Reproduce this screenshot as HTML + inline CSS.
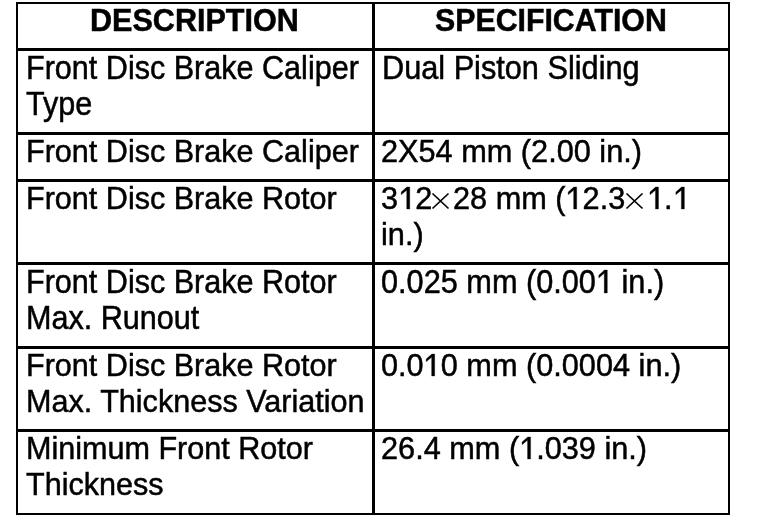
<!DOCTYPE html>
<html>
<head>
<meta charset="utf-8">
<title>Front Disc Brake Specifications</title>
<style>
  html, body {
    margin: 0;
    padding: 0;
    background: #ffffff;
  }
  html {
    filter: grayscale(1);
  }
  body {
    width: 768px;
    height: 530px;
    position: relative;
    overflow: hidden;
    font-family: "Liberation Sans", sans-serif;
    color: #000000;
  }
  .ln {
    position: absolute;
    background: #000000;
  }
  .t {
    position: absolute;
    white-space: nowrap;
    font-size: 32px;
    line-height: 36px;
    height: 36px;
    transform: scale(var(--sx, 0.955), var(--sy, 1));
    transform-origin: 0 29px;
    -webkit-text-stroke: 0.5px #000000;
  }
  .h {
    font-weight: bold;
  }
  .c2 { --sx: 0.959; }
  .tall { --sy: 1.045; }
  .o {
    display: inline-block;
    position: relative;
    color: transparent;
    -webkit-text-stroke: 0 transparent;
  }
  .o svg {
    position: absolute;
    left: 0;
    top: 6.98px;
    width: 17.8px;
    height: 22.02px;
    overflow: visible;
  }
  .o svg path {
    fill: #000000;
    stroke: #000000;
    stroke-width: 0.3;
  }
  .x {
    position: absolute;
    width: 19px;
    height: 18px;
    font-size: 10px;
    line-height: 18px;
    color: transparent;
  }
  .x svg {
    position: absolute;
    left: 0;
    top: 0;
    overflow: visible;
  }
  .x path {
    fill: none;
    stroke: #000000;
    stroke-width: 1.7;
    stroke-linecap: butt;
  }
</style>
</head>
<body>

<!-- outer border -->
<div class="ln" style="left:16px; top:2px; width:714px; height:2px;"></div>
<div class="ln" style="left:16px; top:513px; width:714px; height:2px;"></div>
<div class="ln" style="left:16px; top:2px; width:2px; height:513px;"></div>
<div class="ln" style="left:728px; top:2px; width:2px; height:513px;"></div>

<!-- column divider -->
<div class="ln" style="left:372px; top:2px; width:3px; height:513px;"></div>

<!-- row rules -->
<div class="ln" style="left:16px; top:48px;  width:714px; height:3px;"></div>
<div class="ln" style="left:16px; top:132px; width:714px; height:3px;"></div>
<div class="ln" style="left:16px; top:179px; width:714px; height:3px;"></div>
<div class="ln" style="left:16px; top:262px; width:714px; height:3px;"></div>
<div class="ln" style="left:16px; top:346px; width:714px; height:3px;"></div>
<div class="ln" style="left:16px; top:429px; width:714px; height:3px;"></div>

<!-- header -->
<div class="t h" id="h1" style="left:90px; top:2px;">DESCRIPTION</div>
<div class="t h" id="h2" style="left:435px; top:2px; --sx:0.947;">SPECIFICATION</div>

<!-- row 1 -->
<div class="t tall" id="r1a" style="left:25.7px; top:50px;">Front Disc Brake Caliper</div>
<div class="t tall" id="r1b" style="left:25.7px; top:86px;">Type</div>
<div class="t c2 tall" id="r1c" style="left:381.8px; top:50px;">Dual Piston Sliding</div>

<!-- row 2 -->
<div class="t" id="r2a" style="left:25.7px; top:133px;">Front Disc Brake Caliper</div>
<div class="t c2" id="r2c" style="left:381px; top:133px;">2X54 mm (2.00 in.)</div>

<!-- row 3 -->
<div class="t" id="r3a" style="left:25.7px; top:180px;">Front Disc Brake Rotor</div>
<div class="t c2" id="r3c" style="left:381px; top:180px;">3<span class="o">1<svg viewBox="0 0 17.8 22.02"><path d="M8.8 22.02 L8.8 3.2 L3.1 7.7 L3.1 4.9 L9 0 L12 0 L12 22.02 Z"/></svg></span>2</div>
<span class="x" id="x1" style="left:431px; top:192px;">&#215;<svg width="19" height="18" viewBox="0 0 19 18"><path d="M1.5 1.5 L17.5 16.5 M17.5 1.5 L1.5 16.5"/></svg></span>
<div class="t c2" id="r3c2" style="left:452.5px; top:180px;">28 mm (<span class="o">1<svg viewBox="0 0 17.8 22.02"><path d="M8.8 22.02 L8.8 3.2 L3.1 7.7 L3.1 4.9 L9 0 L12 0 L12 22.02 Z"/></svg></span>2.3</div>
<span class="x" id="x2" style="left:625px; top:192px;">&#215;<svg width="19" height="18" viewBox="0 0 19 18"><path d="M1.5 1.5 L17.5 16.5 M17.5 1.5 L1.5 16.5"/></svg></span>
<div class="t c2" id="r3c3" style="left:647px; top:180px;"><span class="o">1<svg viewBox="0 0 17.8 22.02"><path d="M8.8 22.02 L8.8 3.2 L3.1 7.7 L3.1 4.9 L9 0 L12 0 L12 22.02 Z"/></svg></span>.<span class="o">1<svg viewBox="0 0 17.8 22.02"><path d="M8.8 22.02 L8.8 3.2 L3.1 7.7 L3.1 4.9 L9 0 L12 0 L12 22.02 Z"/></svg></span></div>
<div class="t c2" id="r3d" style="left:381px; top:216px;">in.)</div>

<!-- row 4 -->
<div class="t tall" id="r4a" style="left:25.7px; top:264px;">Front Disc Brake Rotor</div>
<div class="t tall" id="r4b" style="left:25.7px; top:300px;">Max. Runout</div>
<div class="t c2 tall" id="r4c" style="left:381px; top:264px;">0.025 mm (0.00<span class="o">1<svg viewBox="0 0 17.8 22.02"><path d="M8.8 22.02 L8.8 3.2 L3.1 7.7 L3.1 4.9 L9 0 L12 0 L12 22.02 Z"/></svg></span> in.)</div>

<!-- row 5 -->
<div class="t" id="r5a" style="left:25.7px; top:347px;">Front Disc Brake Rotor</div>
<div class="t" id="r5b" style="left:25.7px; top:383px;">Max. Thickness Variation</div>
<div class="t c2" id="r5c" style="left:381px; top:347px;">0.0<span class="o">1<svg viewBox="0 0 17.8 22.02"><path d="M8.8 22.02 L8.8 3.2 L3.1 7.7 L3.1 4.9 L9 0 L12 0 L12 22.02 Z"/></svg></span>0 mm (0.0004 in.)</div>

<!-- row 6 -->
<div class="t" id="r6a" style="left:25.7px; top:430px;">Minimum Front Rotor</div>
<div class="t" id="r6b" style="left:25.7px; top:466px;">Thickness</div>
<div class="t c2" id="r6c" style="left:381px; top:430px;">26.4 mm (<span class="o">1<svg viewBox="0 0 17.8 22.02"><path d="M8.8 22.02 L8.8 3.2 L3.1 7.7 L3.1 4.9 L9 0 L12 0 L12 22.02 Z"/></svg></span>.039 in.)</div>

</body>
</html>
